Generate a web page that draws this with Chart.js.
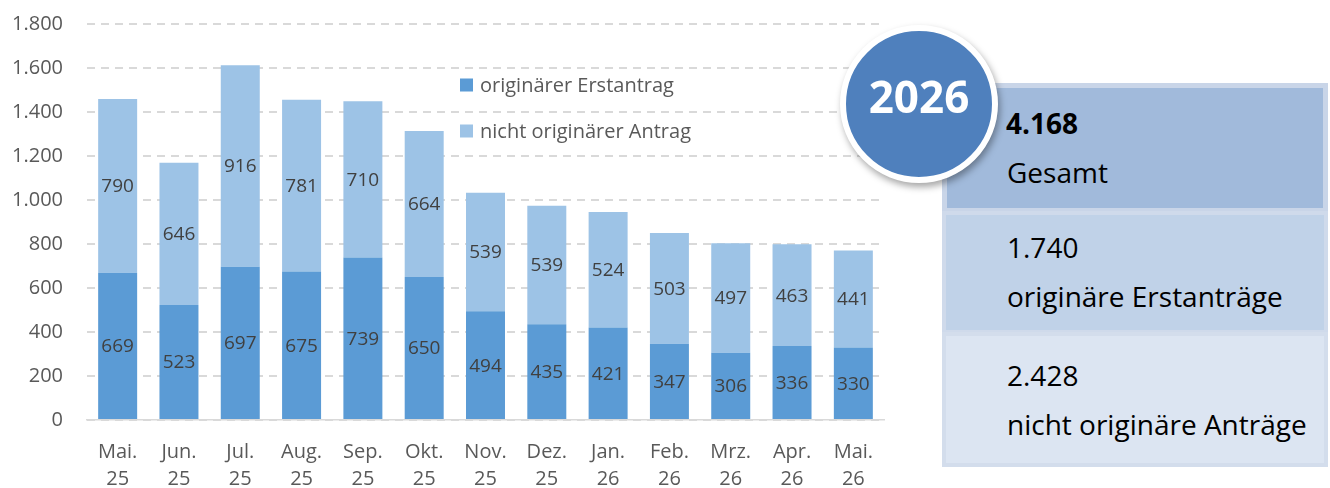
<!DOCTYPE html>
<html>
<head>
<meta charset="utf-8">
<script src="https://cdn.jsdelivr.net/npm/chart.js@4/dist/chart.umd.min.js"></script>
<style>
  html, body { margin: 0; padding: 0; background: #fff; overflow: hidden; width: 1330px; height: 488px; }
  #wrap { position: absolute; left: 0; top: 0; width: 900px; height: 500px; }
  .box { position: absolute; box-sizing: border-box; }
  .txt { position: absolute; font-family: "Open Sans", sans-serif; font-size: 28px; color: #000; white-space: nowrap; height: 38px; line-height: 38px; }
  #circle { position: absolute; left: 840px; top: 25px; width: 158px; height: 158px; box-sizing: border-box; border-radius: 50%; background: #4f80bd; border: 6px solid #fff; box-shadow: 2px 4px 7px rgba(0,0,0,0.35); }
  #year { position: absolute; left: 840px; width: 158px; top: 66px; height: 60px; line-height: 60px; text-align: center; font-family: "Open Sans", sans-serif; font-weight: bold; font-size: 44px; color: #fff; }
</style>
</head>
<body>
<div id="wrap"><canvas id="c" width="900" height="500"></canvas></div>

<div class="box" style="left:942px; top:83px; width:386px; height:130px; background:#a1badb; border:5px solid #c9d5e8;"></div>
<div class="box" style="left:942px; top:211px; width:386px; height:123px; background:#c0d2e8; border:4px solid #cfdaeb;"></div>
<div class="box" style="left:942px; top:332px; width:386px; height:135px; background:#dce5f2; border:4px solid #d3ddec;"></div>

<div class="txt" style="left:1006px; top:104px; font-weight:bold;">4.168</div>
<div class="txt" style="left:1007px; top:153px;">Gesamt</div>
<div class="txt" style="left:1007px; top:228px;">1.740</div>
<div class="txt" style="left:1007px; top:277px;">originäre Erstanträge</div>
<div class="txt" style="left:1007px; top:356px;">2.428</div>
<div class="txt" style="left:1007px; top:405px;">nicht originäre Anträge</div>

<div id="circle"></div>
<div id="year">2026</div>

<script>
const categories = [
  ["Mai.", "25"], ["Jun.", "25"], ["Jul.", "25"], ["Aug.", "25"], ["Sep.", "25"],
  ["Okt.", "25"], ["Nov.", "25"], ["Dez.", "25"], ["Jan.", "26"], ["Feb.", "26"],
  ["Mrz.", "26"], ["Apr.", "26"], ["Mai.", "26"]
];
const originaerErstantrag = [669, 523, 697, 675, 739, 650, 494, 435, 421, 347, 306, 336, 330];
const nichtOriginaerAntrag = [790, 646, 916, 781, 710, 664, 539, 539, 524, 503, 497, 463, 441];
const seriesNames = ["originärer Erstantrag", "nicht originärer Antrag"];
const seriesColors = ["#5b9bd5", "#9dc3e6"];
const yTickValues = [0, 200, 400, 600, 800, 1000, 1200, 1400, 1600, 1800];

const FONT = "'Open Sans', sans-serif";
const fmt = v => v.toLocaleString('de-DE');

const valueLabels = {
  id: 'valueLabels',
  afterDatasetsDraw(chart) {
    const ctx = chart.ctx;
    ctx.save();
    ctx.font = "19px " + FONT;
    ctx.fillStyle = "#404040";
    ctx.textAlign = "center";
    ctx.textBaseline = "middle";
    chart.data.datasets.forEach((ds, di) => {
      const meta = chart.getDatasetMeta(di);
      meta.data.forEach((bar, i) => {
        const p = bar.getProps(['x', 'y', 'base'], true);
        ctx.fillText(fmt(ds.data[i]), p.x, (p.y + p.base) / 2 + 1);
      });
    });
    ctx.restore();
  }
};

const innerLegend = {
  id: 'innerLegend',
  afterDraw(chart) {
    const ctx = chart.ctx;
    const a = chart.chartArea;
    ctx.save();
    ctx.font = "20px " + FONT;
    ctx.textBaseline = "middle";
    ctx.textAlign = "left";
    chart.data.datasets.forEach((ds, i) => {
      const cy = a.top + 61 + i * 46;
      const x = a.left + 373;
      ctx.fillStyle = ds.backgroundColor;
      ctx.fillRect(x, cy - 6.5, 13, 13);
      ctx.fillStyle = "#595959";
      ctx.fillText(ds.label, x + 20, cy + 1);
    });
    ctx.restore();
  }
};

new Chart(document.getElementById('c'), {
  type: 'bar',
  data: {
    labels: categories,
    datasets: [
      { label: seriesNames[0], data: originaerErstantrag, backgroundColor: seriesColors[0], borderWidth: 0 },
      { label: seriesNames[1], data: nichtOriginaerAntrag, backgroundColor: seriesColors[1], borderWidth: 0 }
    ]
  },
  options: {
    responsive: false,
    devicePixelRatio: 1,
    animation: false,
    layout: { padding: { left: 0, top: 24, right: 16, bottom: 0 } },
    datasets: { bar: { barPercentage: 0.636, categoryPercentage: 1 } },
    plugins: { legend: { display: false }, tooltip: { enabled: false } },
    scales: {
      x: {
        stacked: true,
        grid: { display: false, drawTicks: false },
        border: { display: true, color: "#d9d9d9", width: 1.5 },
        ticks: { color: "#595959", font: { family: FONT, size: 20, lineHeight: 1.35 }, padding: 19, maxRotation: 0, autoSkip: false },
        afterFit(scale) { scale.height = 80; scale.paddingLeft = 0; scale.paddingRight = 0; }
      },
      y: {
        stacked: true,
        min: 0, max: 1800,
        afterBuildTicks(scale) { scale.ticks = yTickValues.map(v => ({ value: v })); },
        grid: { color: "#d9d9d9", lineWidth: 2, drawTicks: false },
        border: { display: false, dash: [8, 6] },
        ticks: { color: "#595959", font: { family: FONT, size: 20 }, padding: 24, callback: v => fmt(v) },
        afterFit(scale) { scale.width = 87; scale.paddingTop = 0; scale.paddingBottom = 0; }
      }
    }
  },
  plugins: [valueLabels, innerLegend]
});
</script>
</body>
</html>
